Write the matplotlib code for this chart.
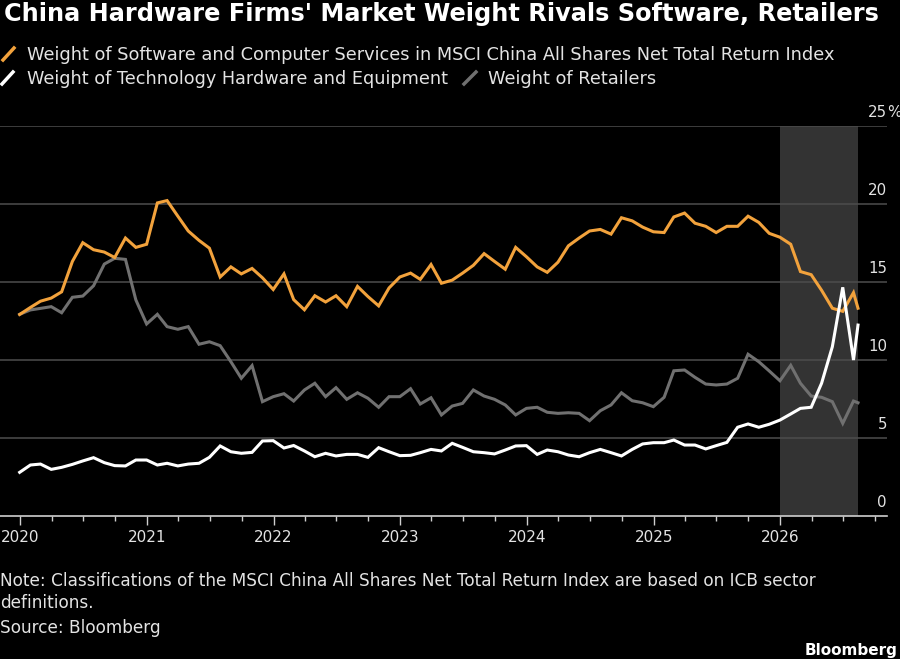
import matplotlib
matplotlib.use('Agg')
import matplotlib.pyplot as plt
import matplotlib.dates as mdates
from matplotlib.lines import Line2D
import pandas as pd

# Month-end readings from Dec 2019 to Jul 2026, plus one mid-August reading
dates = list(pd.date_range('2019-12-31', periods=80, freq='ME')) + [pd.Timestamp('2026-08-13')]

software_weight = [
    12.9, 13.35, 13.75, 13.95, 14.35, 16.3, 17.5, 17.05, 16.9, 16.55, 17.8, 17.2,
    17.4, 20.05, 20.2, 19.2, 18.25, 17.65, 17.15, 15.3, 15.95, 15.5, 15.85, 15.25,
    14.5, 15.5, 13.85, 13.2, 14.1, 13.7, 14.1, 13.4, 14.7, 14.05, 13.45, 14.6,
    15.3, 15.55, 15.15, 16.1, 14.9, 15.1, 15.55, 16.05, 16.8, 16.3, 15.8, 17.2,
    16.6, 15.95, 15.6, 16.25, 17.3, 17.8, 18.25, 18.35, 18.05, 19.1, 18.9, 18.5,
    18.2, 18.15, 19.15, 19.4, 18.75, 18.55, 18.15, 18.55, 18.55, 19.2, 18.8, 18.1,
    17.85, 17.4, 15.65, 15.45, 14.45, 13.3, 13.1, 14.3, 13.3,
]
hardware_weight = [
    2.78, 3.25, 3.31, 2.97, 3.1, 3.29, 3.51, 3.72, 3.4, 3.21, 3.19, 3.57,
    3.57, 3.25, 3.36, 3.19, 3.31, 3.36, 3.74, 4.47, 4.1, 4.0, 4.06, 4.79,
    4.81, 4.34, 4.5, 4.15, 3.78, 4.0, 3.83, 3.93, 3.93, 3.74, 4.36, 4.1,
    3.85, 3.87, 4.04, 4.25, 4.15, 4.64, 4.38, 4.1, 4.04, 3.96, 4.21, 4.47,
    4.49, 3.93, 4.21, 4.1, 3.89, 3.78, 4.04, 4.25, 4.04, 3.83, 4.25, 4.6,
    4.68, 4.68, 4.85, 4.53, 4.53, 4.28, 4.49, 4.7, 5.67, 5.88, 5.67, 5.86,
    6.13, 6.52, 6.88, 6.95, 8.49, 10.83, 14.64, 9.98, 12.22,
]
retailers_weight = [
    12.91, 13.19, 13.29, 13.4, 13.01, 14.0, 14.08, 14.74, 16.13, 16.5, 16.43, 13.83,
    12.29, 12.91, 12.12, 11.95, 12.12, 10.99, 11.15, 10.9, 9.87, 8.81, 9.62, 7.31,
    7.63, 7.82, 7.35, 8.06, 8.49, 7.63, 8.21, 7.46, 7.88, 7.53, 6.95, 7.63,
    7.63, 8.14, 7.16, 7.56, 6.46, 7.03, 7.2, 8.06, 7.67, 7.46, 7.1, 6.46,
    6.88, 6.95, 6.63, 6.56, 6.6, 6.56, 6.09, 6.73, 7.1, 7.88, 7.37, 7.24,
    6.99, 7.59, 9.29, 9.34, 8.87, 8.44, 8.38, 8.44, 8.81, 10.35, 9.87, 9.28,
    8.65, 9.64, 8.49, 7.67, 7.59, 7.31, 5.92, 7.35, 7.24,
]
y_ticks = [0, 5, 10, 15, 20, 25]

title = "China Hardware Firms' Market Weight Rivals Software, Retailers"
label_software = "Weight of Software and Computer Services in MSCI China All Shares Net Total Return Index"
label_hardware = "Weight of Technology Hardware and Equipment"
label_retailers = "Weight of Retailers"
note_lines = ["Note: Classifications of the MSCI China All Shares Net Total Return Index are based on ICB sector",
              "definitions."]
source = "Source: Bloomberg"

ORANGE = '#f2a23c'
WHITE = '#ffffff'
GRAY = '#707070'
TEXT = '#e3e3e3'

W, H = 900, 659
plt.rcParams['font.family'] = ['DejaVu Sans']

fig = plt.figure(figsize=(W / 100, H / 100), dpi=100, facecolor='black')


def fx(px):
    return px / W


def fy(py):
    return 1 - py / H


ax = fig.add_axes([0, fy(515.7), fx(887), fy(125.7) - fy(515.7)], facecolor='black')

# shaded period from the start of 2026 to the latest reading
ax.axvspan(pd.Timestamp('2026-01-01'), dates[-1], color='#333333', lw=0, zorder=0)

for v in y_ticks[1:]:
    ax.axhline(v, color='#4d4d4d', lw=1.1, zorder=1)

ax.plot(dates, retailers_weight, color=GRAY, lw=2.2, zorder=3, solid_joinstyle='miter')
ax.plot(dates, software_weight, color=ORANGE, lw=2.2, zorder=4, solid_joinstyle='miter')
ax.plot(dates, hardware_weight, color=WHITE, lw=2.2, zorder=5, solid_joinstyle='miter')

ax.set_ylim(0, 25)
ax.set_xlim(pd.Timestamp('2020-01-01') - pd.Timedelta(days=57.7),
            pd.Timestamp('2026-01-01') + pd.Timedelta(days=307.6))

for s in ['top', 'right', 'left']:
    ax.spines[s].set_visible(False)
ax.spines['bottom'].set_color('#cfcfcf')
ax.spines['bottom'].set_linewidth(1.2)

ax.xaxis.set_major_locator(mdates.YearLocator())
ax.xaxis.set_major_formatter(mdates.DateFormatter('%Y'))
ax.xaxis.set_minor_locator(mdates.MonthLocator(bymonth=[4, 7, 10]))
ax.tick_params(axis='x', which='major', length=6.5, width=1, color='#cfcfcf',
               labelcolor=TEXT, labelsize=11, pad=4)
ax.tick_params(axis='x', which='minor', length=3.5, width=1, color='#cfcfcf')
ax.set_yticks([])

# right-side value labels sitting just above each gridline
for v in y_ticks:
    ax.annotate(str(v), xy=(1.0, v), xycoords=('axes fraction', 'data'),
                xytext=(0, 9), textcoords='offset pixels',
                ha='right', va='baseline', color=TEXT, fontsize=10.8)
ax.annotate('%', xy=(1.0, 25), xycoords=('axes fraction', 'data'),
            xytext=(0, 9), textcoords='offset pixels',
            ha='left', va='baseline', color=TEXT, fontsize=10.8)

# title and legend
fig.text(fx(4), fy(21), title, color='white', fontsize=17.3, fontweight='bold',
         ha='left', va='baseline')

fig.add_artist(Line2D([fx(3), fx(14)], [fy(60), fy(48)], color=ORANGE, lw=2.5))
fig.text(fx(27), fy(59.5), label_software, color=TEXT, fontsize=12.8, ha='left', va='baseline')
fig.add_artist(Line2D([fx(2), fx(13)], [fy(84), fy(72)], color=WHITE, lw=2.5))
fig.text(fx(27), fy(84), label_hardware, color=TEXT, fontsize=12.7, ha='left', va='baseline')
fig.add_artist(Line2D([fx(464), fx(476)], [fy(84), fy(72)], color=GRAY, lw=2.5))
fig.text(fx(488), fy(84), label_retailers, color=TEXT, fontsize=12.8, ha='left', va='baseline')

# footer
fig.text(fx(0), fy(586), note_lines[0], color=TEXT, fontsize=12.2, ha='left', va='baseline')
fig.text(fx(0), fy(608), note_lines[1], color=TEXT, fontsize=12.2, ha='left', va='baseline')
fig.text(fx(0), fy(633), source, color=TEXT, fontsize=12.2, ha='left', va='baseline')
fig.text(fx(898), fy(655), 'Bloomberg', color='white', fontsize=11, fontweight='bold',
         ha='right', va='baseline')

fig.savefig('out.png', dpi=100, facecolor='black')
